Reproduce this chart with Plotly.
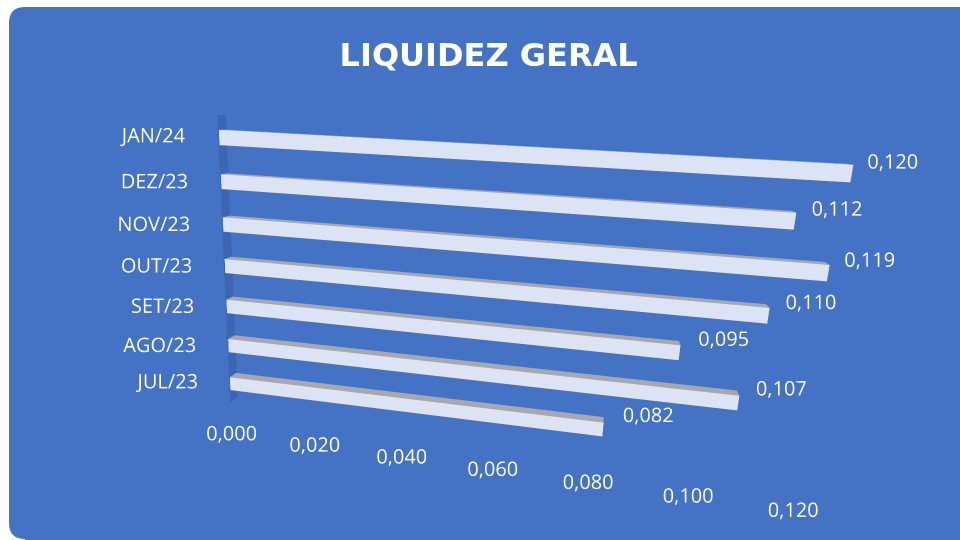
import plotly.graph_objects as go

# ---- data ----
categories = ["JUL/23", "AGO/23", "SET/23", "OUT/23", "NOV/23", "DEZ/23", "JAN/24"]
values = [0.082, 0.107, 0.095, 0.110, 0.119, 0.112, 0.120]
value_labels = ["0,082", "0,107", "0,095", "0,110", "0,119", "0,112", "0,120"]
tick_vals = [0.000, 0.020, 0.040, 0.060, 0.080, 0.100, 0.120]
tick_text = ["0,000", "0,020", "0,040", "0,060", "0,080", "0,100", "0,120"]
title_text = "LIQUIDEZ GERAL"

# ---- style ----
BG = "#4472C4"
WALL = "#3C66B4"
FRONT = "#DCE3F4"
TOP = "#A6A8AC"
END = "#8E9096"
FONT = "Open Sans"

BAR_H = 0.34          # bar thickness (category units)
Y0, Y1 = 0.1, 0.9     # bar depth inside the wall depth (0..1)

XR = [-0.006, 0.12]
YR = [0.0, 1.0]
ZR = [-1.4, 6.5]
WALL_Z = [-0.5, 6.5]

# scene units per data unit
SX, SY, SZ = 20.55, 0.067, 0.18443

# ---- bars as boxes ----
xs, ys, zs, I, J, K, fc = [], [], [], [], [], [], []


def add_box(x0, x1, y0, y1, z0, z1, cols):
    base = len(xs)
    corners = [(x0, y0, z0), (x1, y0, z0), (x1, y1, z0), (x0, y1, z0),
               (x0, y0, z1), (x1, y0, z1), (x1, y1, z1), (x0, y1, z1)]
    for c in corners:
        xs.append(c[0]); ys.append(c[1]); zs.append(c[2])
    front, top, end = cols
    faces = [((0, 1, 5), front), ((0, 5, 4), front),
             ((4, 5, 6), top), ((4, 6, 7), top),
             ((1, 2, 6), end), ((1, 6, 5), end),
             ((3, 2, 6), front), ((3, 6, 7), front),
             ((0, 1, 2), top), ((0, 2, 3), top),
             ((0, 3, 7), end), ((0, 7, 4), end)]
    for (a, b, c), col in faces:
        I.append(base + a); J.append(base + b); K.append(base + c); fc.append(col)


for idx, v in enumerate(values):
    add_box(0, v, Y0, Y1, idx - BAR_H / 2, idx + BAR_H / 2, (FRONT, TOP, END))

light = dict(ambient=1.0, diffuse=0.0, specular=0.0, roughness=1.0, fresnel=0.0)
bars = go.Mesh3d(x=xs, y=ys, z=zs, i=I, j=J, k=K, facecolor=fc, flatshading=True,
                 lighting=light, hoverinfo="skip", showscale=False)

# side wall at x = 0
wall = go.Mesh3d(x=[0, 0, 0, 0], y=[0, 1, 1, 0], z=[WALL_Z[0], WALL_Z[0], WALL_Z[1], WALL_Z[1]],
                 i=[0, 0], j=[1, 2], k=[2, 3], color=WALL, flatshading=True,
                 lighting=light, hoverinfo="skip", showscale=False)

cat_text = go.Scatter3d(
    x=[-0.003] * len(categories), y=[0] * len(categories), z=list(range(len(categories))),
    mode="text", text=categories, textposition="middle left",
    textfont=dict(family=FONT, size=20, color="white"), hoverinfo="skip")

val_text = go.Scatter3d(
    x=values, y=[Y1] * len(values), z=[i + 0.2 for i in range(len(values))],
    mode="text", text=value_labels, textposition="middle right",
    textfont=dict(family=FONT, size=20, color="white"), hoverinfo="skip")

tick_lbl = go.Scatter3d(
    x=tick_vals, y=[0] * len(tick_vals), z=[-1.35] * len(tick_vals),
    mode="text", text=tick_text, textposition="middle center",
    textfont=dict(family=FONT, size=20, color="white"), hoverinfo="skip")

fig = go.Figure([wall, bars, cat_text, val_text, tick_lbl])

# ---- camera (perspective, slight roll so the side wall stays upright) ----
F = (-0.1611, 0.9598, -0.2297)   # viewing direction
UP = (-0.0852, 0.2184, 0.9721)
REL = (-1.5620, 2.5431, -1.3375)  # front-bottom corner of the wall minus eye


def mid(r):
    return (r[0] + r[1]) / 2


A = ((0 - mid(XR)) * SX, (0 - mid(YR)) * SY, (WALL_Z[0] - mid(ZR)) * SZ)
eye = tuple(A[k] - REL[k] for k in range(3))
center = tuple(eye[k] + 2.5 * F[k] for k in range(3))

axis_common = dict(showgrid=False, zeroline=False, showspikes=False, showline=False,
                   showticklabels=False, ticks="", showbackground=False, title=dict(text=""))
fig.update_layout(
    width=960, height=540,
    margin=dict(l=0, r=0, t=0, b=0),
    paper_bgcolor=BG,
    showlegend=False,
    hovermode=False,
    title=dict(text="<b>" + title_text + "</b>", x=0.509, y=1 - 55 / 540,
               xanchor="center", yanchor="middle",
               font=dict(family="DejaVu Sans", size=32, color="white")),
    scene=dict(
        domain=dict(x=[0.0, 1.0], y=[0.0, 1.0]),
        bgcolor="rgba(0,0,0,0)",
        aspectmode="manual",
        aspectratio=dict(x=(XR[1] - XR[0]) * SX, y=(YR[1] - YR[0]) * SY, z=(ZR[1] - ZR[0]) * SZ),
        camera=dict(eye=dict(x=eye[0], y=eye[1], z=eye[2]),
                    center=dict(x=center[0], y=center[1], z=center[2]),
                    up=dict(x=UP[0], y=UP[1], z=UP[2]),
                    projection=dict(type="perspective")),
        xaxis=dict(axis_common, range=XR),
        yaxis=dict(axis_common, range=YR),
        zaxis=dict(axis_common, range=ZR),
    ),
)

# white margin outside the rounded blue panel (top and left), then the panel
x0 = 9 / 960
y0, y1 = 1 / 540, 1 - 7 / 540
rx, ry = 16 / 960, 16 / 540
white = dict(xref="paper", yref="paper", fillcolor="white", line=dict(width=0), layer="below")
fig.add_shape(type="rect", x0=-0.01, x1=x0, y0=-0.01, y1=1.01, **white)
fig.add_shape(type="rect", x0=-0.01, x1=1.01, y0=y1, y1=1.01, **white)
fig.add_shape(type="rect", x0=x0, x1=x0 + rx, y0=y1 - ry, y1=y1, **white)
fig.add_shape(type="rect", x0=x0, x1=x0 + rx, y0=-0.01, y1=y0 + ry, **white)
path = (f"M {x0},{y1 - ry} Q {x0},{y1} {x0 + rx},{y1} L 1.05,{y1} L 1.05,{y0} "
        f"L {x0 + rx},{y0} Q {x0},{y0} {x0},{y0 + ry} Z")
fig.add_shape(type="path", path=path, xref="paper", yref="paper",
              fillcolor=BG, line=dict(width=0), layer="below")

fig.write_html(
    "out.html", config={"displayModeBar": False},
    post_script=("document.body.style.margin='0px';"
                 "document.body.style.overflow='hidden';"
                 "document.documentElement.style.overflow='hidden';"))
